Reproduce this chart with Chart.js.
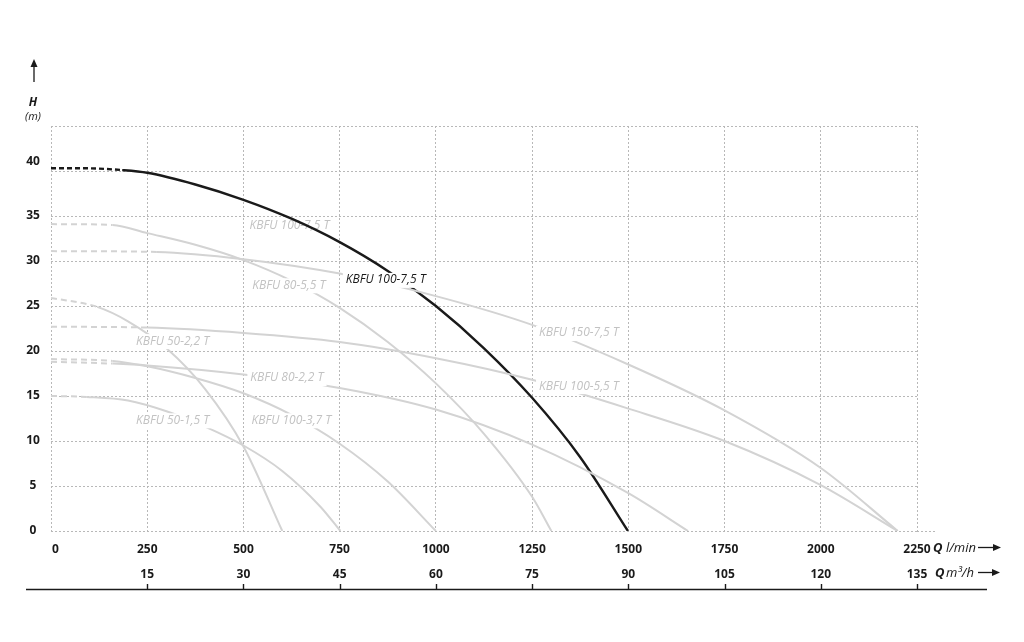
<!DOCTYPE html>
<html>
<head>
<meta charset="utf-8">
<title>KBFU pump curves</title>
<script src="https://cdn.jsdelivr.net/npm/chart.js@4.4.1/dist/chart.umd.min.js"></script>
<style>
  html, body { margin: 0; padding: 0; background: #fff; }
  canvas { display: block; }
</style>
</head>
<body>
<canvas id="chart" width="1024" height="642"></canvas>
<script>
// axis ticks
const flowTicks = [0, 250, 500, 750, 1000, 1250, 1500, 1750, 2000, 2250]; // l/min
const flowM3Ticks = [15, 30, 45, 60, 75, 90, 105, 120, 135];             // m3/h
const headTicks = [0, 5, 10, 15, 20, 25, 30, 35, 40];                      // m

// pump curves, Q in l/min, H in m
const q100_75 = [0, 90, 185, 250, 375, 500, 625, 750, 875, 1000, 1125, 1250, 1375, 1499];
const h100_75 = [40.3, 40.3, 40.1, 39.8, 38.5, 36.8, 34.7, 32.1, 28.9, 25.0, 20.3, 14.8, 8.2, 0];

const q80_55 = [0, 160, 250, 375, 500, 625, 750, 875, 1000, 1125, 1250, 1300];
const h80_55 = [34.1, 34.0, 33.1, 31.8, 30.1, 27.8, 24.8, 21.0, 16.4, 10.8, 3.8, 0];

const q150_75 = [0, 275, 500, 750, 1000, 1250, 1500, 1750, 2000, 2200];
const h150_75 = [31.1, 31.0, 30.2, 28.6, 26.1, 22.9, 18.5, 13.4, 7.0, 0];

const q50_22 = [0, 120, 200, 300, 400, 500, 601];
const h50_22 = [25.9, 24.9, 23.3, 20.3, 15.8, 9.4, 0];

const q100_55 = [0, 250, 500, 750, 1000, 1250, 1500, 1750, 2000, 2200];
const h100_55 = [22.7, 22.6, 22.0, 21.0, 19.2, 16.8, 13.6, 10.0, 5.1, 0];

const q80_22 = [0, 160, 250, 500, 750, 1000, 1250, 1500, 1655];
const h80_22 = [18.8, 18.6, 18.4, 17.4, 15.9, 13.5, 9.6, 4.2, 0];

const q100_37 = [0, 160, 250, 375, 500, 625, 750, 875, 1000];
const h100_37 = [19.1, 18.9, 18.3, 17.0, 15.3, 12.9, 9.7, 5.5, 0];

const q50_15 = [0, 93, 200, 300, 400, 500, 600, 700, 752];
const h50_15 = [15.0, 14.9, 14.5, 13.3, 11.6, 9.5, 6.7, 2.7, 0];

// where the dashed (extrapolated) start of each curve ends, l/min
const dashEnd = { k100_75: 185, k80_55: 160, k150_75: 275, k50_22: 120, k100_55: 250, k80_22: 160, k100_37: 160, k50_15: 93 };

const GREY = "#d3d3d3";
const GREY_TEXT = "#c2c2c2";
const GRID = "#b8b8b8";
const INK = "#1a1a1a";
const FONT = "'Open Sans', 'DejaVu Sans', sans-serif";

function curve(q, h, dashTo, color, width, dash) {
  return {
    data: q.map((v, i) => ({ x: v, y: h[i] })),
    borderColor: color,
    borderWidth: width,
    pointRadius: 0,
    fill: false,
    cubicInterpolationMode: "monotone",
    segment: {
      borderDash: (ctx) => (ctx.p1.parsed.x <= dashTo ? dash : undefined),
    },
  };
}

// curve captions, anchored at their left edge / vertical centre in data units
const captions = [
  { text: "KBFU 100-7,5 T", q: 516, h: 33.9, color: GREY_TEXT, under: true },
  { text: "KBFU 80-5,5 T", q: 523, h: 27.3, color: GREY_TEXT },
  { text: "KBFU 100-7,5 T", q: 766, h: 27.9, color: INK },
  { text: "KBFU 150-7,5 T", q: 1268, h: 22.0, color: GREY_TEXT },
  { text: "KBFU 50-2,2 T", q: 221, h: 21.1, color: GREY_TEXT },
  { text: "KBFU 100-5,5 T", q: 1268, h: 16.1, color: GREY_TEXT },
  { text: "KBFU 80-2,2 T", q: 518, h: 17.0, color: GREY_TEXT },
  { text: "KBFU 50-1,5 T", q: 221, h: 12.3, color: GREY_TEXT },
  { text: "KBFU 100-3,7 T", q: 521, h: 12.3, color: GREY_TEXT },
];

function drawCaption(ctx, chart, c, withBg) {
  const x = chart.scales.x.getPixelForValue(c.q);
  const y = chart.scales.y.getPixelForValue(c.h);
  ctx.font = "italic 12px " + FONT;
  ctx.textAlign = "left";
  ctx.textBaseline = "middle";
  if (withBg) {
    const w = ctx.measureText(c.text).width;
    ctx.fillStyle = "#fff";
    ctx.fillRect(x - 3, y - 7, w + 6, 15);
  }
  ctx.fillStyle = c.color;
  ctx.fillText(c.text, x, y);
}

function arrowRight(ctx, x0, x1, y) {
  ctx.beginPath();
  ctx.moveTo(x0, y);
  ctx.lineTo(x1 - 6, y);
  ctx.stroke();
  ctx.beginPath();
  ctx.moveTo(x1, y);
  ctx.lineTo(x1 - 8, y - 3.5);
  ctx.lineTo(x1 - 8, y + 3.5);
  ctx.closePath();
  ctx.fill();
}

const decor = {
  id: "decor",
  beforeDatasetsDraw(chart) {
    const ctx = chart.ctx;
    ctx.save();
    captions.filter((c) => c.under).forEach((c) => drawCaption(ctx, chart, c, false));
    ctx.restore();
  },
  afterDatasetsDraw(chart) {
    const ctx = chart.ctx;
    ctx.save();
    captions.filter((c) => !c.under).forEach((c) => drawCaption(ctx, chart, c, true));
    ctx.restore();
  },
  afterDraw(chart) {
    const ctx = chart.ctx;
    const xs = chart.scales.x;
    const ys = chart.scales.y;
    const area = chart.chartArea;
    ctx.save();

    // zero line runs a little past the grid
    ctx.strokeStyle = GRID;
    ctx.lineWidth = 1;
    ctx.setLineDash([2, 2]);
    ctx.beginPath();
    ctx.moveTo(area.right, Math.round(area.bottom) + 0.5);
    ctx.lineTo(area.right + 20, Math.round(area.bottom) + 0.5);
    ctx.stroke();
    ctx.setLineDash([]);

    ctx.fillStyle = INK;
    ctx.strokeStyle = INK;

    // head tick labels
    ctx.font = "bold 12px " + FONT;
    ctx.textAlign = "center";
    ctx.textBaseline = "middle";
    headTicks.forEach((v) => {
      const y = ys.getPixelForValue(v) + (v === 40 ? -9 : 0);
      ctx.fillText(String(v), 33, y);
    });

    // flow tick labels, l/min
    flowTicks.forEach((v) => {
      const x = xs.getPixelForValue(v);
      ctx.textAlign = v === 0 ? "left" : "center";
      ctx.fillText(String(v), v === 0 ? x + 1 : x, 549.5);
    });

    // flow tick labels, m3/h (1 m3/h = 1000/60 l/min)
    ctx.textAlign = "center";
    flowM3Ticks.forEach((v) => {
      ctx.fillText(String(v), xs.getPixelForValue(v * 1000 / 60), 574.5);
    });

    // bottom rule with ticks
    ctx.lineWidth = 1.4;
    ctx.beginPath();
    ctx.moveTo(26, 589.5);
    ctx.lineTo(987, 589.5);
    flowM3Ticks.forEach((v) => {
      const x = Math.round(xs.getPixelForValue(v * 1000 / 60)) + 0.5;
      ctx.moveTo(x, 584);
      ctx.lineTo(x, 589.5);
    });
    ctx.stroke();

    // axis titles
    ctx.lineWidth = 1.3;
    ctx.textAlign = "left";
    ctx.font = "bold italic 13px " + FONT;
    ctx.fillText("Q", 933, 548.5);
    ctx.fillText("Q", 935, 573);
    ctx.font = "italic 13px " + FONT;
    ctx.fillText("l/min", 946, 548.5);
    ctx.fillText("m\u00b3/h", 946, 573);
    arrowRight(ctx, 978, 1001, 547.5);
    arrowRight(ctx, 978, 1000, 572.5);

    // vertical arrow and H (m)
    ctx.beginPath();
    ctx.moveTo(34, 82);
    ctx.lineTo(34, 65);
    ctx.stroke();
    ctx.beginPath();
    ctx.moveTo(34, 59);
    ctx.lineTo(30.5, 67);
    ctx.lineTo(37.5, 67);
    ctx.closePath();
    ctx.fill();
    ctx.textAlign = "center";
    ctx.font = "bold italic 12px " + FONT;
    ctx.fillText("H", 33, 102.5);
    ctx.font = "italic 11px " + FONT;
    ctx.fillText("(m)", 33, 116.5);

    ctx.restore();
  },
};

new Chart(document.getElementById("chart"), {
  type: "line",
  data: {
    datasets: [
      curve(q50_15, h50_15, dashEnd.k50_15, GREY, 2, [6, 4]),
      curve(q100_37, h100_37, dashEnd.k100_37, GREY, 2, [6, 4]),
      curve(q80_22, h80_22, dashEnd.k80_22, GREY, 2, [6, 4]),
      curve(q100_55, h100_55, dashEnd.k100_55, GREY, 2, [6, 4]),
      curve(q50_22, h50_22, dashEnd.k50_22, GREY, 2, [6, 4]),
      curve(q150_75, h150_75, dashEnd.k150_75, GREY, 2, [6, 4]),
      curve(q80_55, h80_55, dashEnd.k80_55, GREY, 2, [6, 4]),
      curve(q100_75, h100_75, dashEnd.k100_75, INK, 2.4, [5, 3]),
    ],
  },
  options: {
    responsive: false,
    animation: false,
    events: [],
    layout: { padding: { left: 51, right: 107, top: 126, bottom: 111 } },
    plugins: { legend: { display: false }, tooltip: { enabled: false } },
    scales: {
      x: {
        type: "linear",
        min: 0,
        max: 2250,
        ticks: { stepSize: 250, display: false },
        grid: { color: GRID, lineWidth: 1, drawTicks: false },
        border: { display: false, dash: [2, 2] },
      },
      y: {
        type: "linear",
        min: 0,
        max: 45,
        ticks: { stepSize: 5, display: false },
        grid: { color: GRID, lineWidth: 1, drawTicks: false },
        border: { display: false, dash: [2, 2] },
      },
    },
  },
  plugins: [decor],
});
</script>
</body>
</html>
